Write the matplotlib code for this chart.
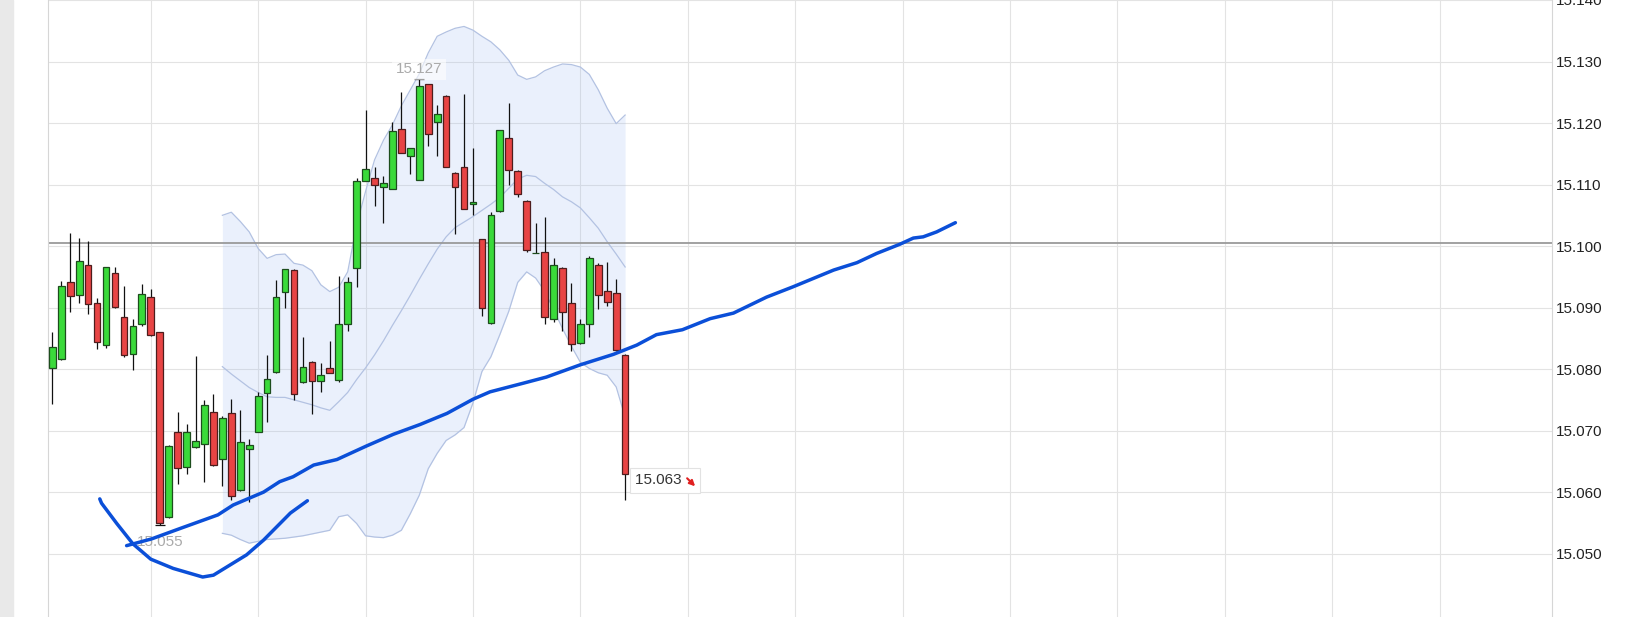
import matplotlib
matplotlib.use("Agg")
import matplotlib.pyplot as plt
from matplotlib.patches import Rectangle
from matplotlib.transforms import offset_copy

plt.rcParams['font.family'] = ['Liberation Sans', 'DejaVu Sans']

# === Data ===
# one candle per slot, slot 0 = first visible candle
opens = [15.0801, 15.0816, 15.0942, 15.0920, 15.0970, 15.0908, 15.0839, 15.0957, 15.0885, 15.0824,
         15.0873, 15.0918, 15.0861, 15.0559, 15.0698, 15.0641, 15.0673, 15.0678, 15.0731, 15.0654,
         15.0729, 15.0603, 15.0670, 15.0698, 15.0761, 15.0795, 15.0926, 15.0961, 15.0779, 15.0812,
         15.0780, 15.0801, 15.0783, 15.0873, 15.0964, 15.1106, 15.1110, 15.1096, 15.1093, 15.1191,
         15.1147, 15.1108, 15.1263, 15.1202, 15.1244, 15.1119, 15.1128, 15.1068, 15.1011, 15.0875,
         15.1057, 15.1176, 15.1122, 15.1074, 15.0988, 15.0991, 15.0882, 15.0965, 15.0907, 15.0842,
         15.0874, 15.0970, 15.0927, 15.0923, 15.0823]
highs = [15.0860, 15.0944, 15.1022, 15.1013, 15.1008, 15.0915, 15.0966, 15.0966, 15.0935, 15.0882,
         15.0939, 15.0931, 15.0861, 15.0676, 15.0731, 15.0711, 15.0822, 15.0750, 15.0759, 15.0724,
         15.0752, 15.0733, 15.0686, 15.0763, 15.0823, 15.0945, 15.0963, 15.0962, 15.0852, 15.0813,
         15.0810, 15.0846, 15.0951, 15.0950, 15.1110, 15.1221, 15.1128, 15.1114, 15.1202, 15.1250,
         15.1160, 15.1271, 15.1264, 15.1229, 15.1245, 15.1120, 15.1247, 15.1160, 15.1012, 15.1056,
         15.1189, 15.1232, 15.1123, 15.1075, 15.1038, 15.1048, 15.0980, 15.0966, 15.0940, 15.0882,
         15.0984, 15.0973, 15.0974, 15.0947, 15.0824]
lows = [15.0744, 15.0815, 15.0893, 15.0907, 15.0889, 15.0832, 15.0835, 15.0900, 15.0819, 15.0798,
        15.0870, 15.0853, 15.0546, 15.0558, 15.0613, 15.0630, 15.0672, 15.0617, 15.0643, 15.0610,
        15.0588, 15.0602, 15.0584, 15.0697, 15.0714, 15.0794, 15.0899, 15.0750, 15.0778, 15.0727,
        15.0762, 15.0793, 15.0779, 15.0862, 15.0934, 15.1105, 15.1065, 15.1037, 15.1092, 15.1151,
        15.1117, 15.1107, 15.1163, 15.1146, 15.1128, 15.1020, 15.1060, 15.1050, 15.0886, 15.0874,
        15.1056, 15.1099, 15.1079, 15.0991, 15.0988, 15.0873, 15.0876, 15.0862, 15.0830, 15.0841,
        15.0852, 15.0898, 15.0902, 15.0830, 15.0587]
closes = [15.0836, 15.0935, 15.0919, 15.0976, 15.0906, 15.0844, 15.0966, 15.0901, 15.0823, 15.0870,
          15.0922, 15.0855, 15.0549, 15.0675, 15.0639, 15.0698, 15.0683, 15.0741, 15.0644, 15.0720,
          15.0593, 15.0681, 15.0676, 15.0756, 15.0784, 15.0918, 15.0963, 15.0759, 15.0804, 15.0781,
          15.0791, 15.0794, 15.0873, 15.0942, 15.1106, 15.1126, 15.1100, 15.1102, 15.1187, 15.1152,
          15.1159, 15.1260, 15.1182, 15.1215, 15.1129, 15.1096, 15.1061, 15.1072, 15.0900, 15.1050,
          15.1188, 15.1124, 15.1084, 15.0993, 15.0988, 15.0885, 15.0969, 15.0892, 15.0841, 15.0873,
          15.0980, 15.0921, 15.0909, 15.0831, 15.0629]

# Bollinger band, slots 19..64
band_start = 19
band_upper = [15.1050, 15.1055, 15.1040, 15.1023, 15.0996, 15.0980, 15.0986, 15.0987, 15.0972, 15.0969,
              15.0960, 15.0937, 15.0926, 15.0933, 15.0958, 15.1034, 15.1089, 15.1140, 15.1172, 15.1197,
              15.1228, 15.1254, 15.1280, 15.1314, 15.1341, 15.1348, 15.1354, 15.1357, 15.1351, 15.1341,
              15.1332, 15.1319, 15.1302, 15.1278, 15.1271, 15.1275, 15.1285, 15.1291, 15.1296, 15.1295,
              15.1291, 15.1279, 15.1254, 15.1224, 15.1199, 15.1213]
band_mid = [15.0804, 15.0792, 15.0781, 15.0770, 15.0762, 15.0755, 15.0754, 15.0754, 15.0750, 15.0746,
            15.0742, 15.0737, 15.0733, 15.0747, 15.0762, 15.0783, 15.0802, 15.0823, 15.0846, 15.0871,
            15.0895, 15.0920, 15.0946, 15.0971, 15.0995, 15.1015, 15.1030, 15.1039, 15.1048, 15.1058,
            15.1068, 15.1079, 15.1094, 15.1109, 15.1115, 15.1113, 15.1102, 15.1092, 15.1080, 15.1072,
            15.1062, 15.1046, 15.1029, 15.1007, 15.0987, 15.0966]
band_lower = [15.0533, 15.0530, 15.0523, 15.0517, 15.0520, 15.0523, 15.0524, 15.0525, 15.0527, 15.0529,
              15.0532, 15.0535, 15.0538, 15.0560, 15.0563, 15.0549, 15.0529, 15.0527, 15.0526, 15.0530,
              15.0538, 15.0565, 15.0595, 15.0638, 15.0663, 15.0684, 15.0693, 15.0705, 15.0745, 15.0796,
              15.0820, 15.0856, 15.0894, 15.0941, 15.0958, 15.0948, 15.0927, 15.0897, 15.0866, 15.0837,
              15.0811, 15.0801, 15.0794, 15.0790, 15.0771, 15.0722]

# long moving average (slot position, value)
ma_x = [8.3, 11.1, 14.3, 18.5, 20.2, 23.6, 25.4, 26.9, 29.2, 31.8, 35.1, 38.1, 41.1, 44.1, 47.0,
        48.9, 52.6, 55.2, 59.0, 62.7, 65.3, 67.5, 70.4, 73.5, 76.1, 79.8, 82.8, 87.3, 89.9, 92.1,
        94.7, 96.2, 97.3, 98.8, 100.9]
ma_y = [15.0513, 15.0524, 15.0541, 15.0563, 15.0579, 15.0600, 15.0617, 15.0625, 15.0644, 15.0653,
        15.0675, 15.0694, 15.0710, 15.0728, 15.0751, 15.0763, 15.0777, 15.0787, 15.0807, 15.0824,
        15.0839, 15.0856, 15.0864, 15.0882, 15.0891, 15.0917, 15.0934, 15.0961, 15.0973, 15.0988,
        15.1003, 15.1013, 15.1015, 15.1023, 15.1038]

# hand-drawn curve
curve_x = [5.3, 5.5, 7.2, 9.0, 11.0, 13.5, 16.8, 18.0, 21.7, 23.6, 25.1, 26.6, 28.5]
curve_y = [15.0589, 15.0582, 15.0549, 15.0516, 15.0491, 15.0476, 15.0462, 15.0465, 15.0498,
           15.0522, 15.0544, 15.0566, 15.0586]

ref_level = 15.1005
y_ticks = [15.050, 15.060, 15.070, 15.080, 15.090, 15.100, 15.110, 15.120, 15.130, 15.140]

GREEN = "#3ada3a"
RED = "#e84444"
BLUE = "#0b4fd8"
BAND_LINE = "#b3c2e2"

W, H = 1628, 617
fig = plt.figure(figsize=(W / 100, H / 100), dpi=100)
fig.patches.append(Rectangle((0, 0), 12.5 / W, 1, transform=fig.transFigure,
                             color="#e9e9e9", zorder=0))
ax = fig.add_axes([48.3 / W, 0, (1552 - 48.3) / W, 1])

ax.set_xlim(-0.45, 167.56)
ax.set_ylim(15.0397, 15.1400)

# grid
ax.set_xticks(range(11, 160, 12))
ax.set_xticklabels([])
ax.set_yticks(y_ticks)
ax.set_yticklabels([f"{v:.3f}" for v in y_ticks])
ax.yaxis.tick_right()
ax.tick_params(axis="x", length=0)
ax.tick_params(axis="y", length=0, pad=3, labelsize=11, labelcolor="#222222")
ax.grid(True, color="#e3e3e3", linewidth=0.8)
ax.set_axisbelow(True)
for side in ("top", "bottom"):
    ax.spines[side].set_visible(False)
for side in ("left", "right"):
    ax.spines[side].set_color("#d6d6d6")
    ax.spines[side].set_linewidth(0.8)

# bollinger band
bx = list(range(band_start, band_start + len(band_mid)))
ax.fill_between(bx, band_lower, band_upper, color=(0.60, 0.72, 0.95), alpha=0.2,
                linewidth=0, zorder=1)
for series in (band_upper, band_mid, band_lower):
    ax.plot(bx, series, color=BAND_LINE, linewidth=0.9, zorder=1.5)

# reference level
ax.axhline(ref_level, color="#9a9a9a", linewidth=1.3, zorder=2)

# candles
xs = list(range(len(opens)))
ax.vlines(xs, lows, highs, color="#111111", linewidth=0.9, zorder=3)
for i in xs:
    o, c = opens[i], closes[i]
    col = GREEN if c >= o else RED
    edge = "#1d4d1d" if c >= o else "#4d1d1d"
    ax.bar(i, c - o, bottom=o, width=0.75, color=col, edgecolor=edge,
           linewidth=0.9, zorder=4)

i_max = max(xs, key=lambda k: highs[k])
i_min = min(xs, key=lambda k: lows[k])
ax.hlines([highs[i_max]], i_max - 0.55, i_max + 0.55, color="#111111", linewidth=0.9, zorder=3)
ax.hlines([lows[i_min]], i_min - 0.55, i_min + 0.55, color="#111111", linewidth=0.9, zorder=3)

ax.annotate(f"{highs[i_max]:.3f}", xy=(i_max, highs[i_max]), xytext=(0, 10),
            textcoords="offset pixels", ha="center", va="center", fontsize=11,
            color="#aaaaaa", zorder=5,
            bbox=dict(boxstyle="square,pad=0.25", fc="white", ec="none", alpha=0.6))
ax.annotate(f"{lows[i_min]:.3f}", xy=(i_min, lows[i_min]), xytext=(0, -17),
            textcoords="offset pixels", ha="center", va="center", fontsize=11,
            color="#aaaaaa", zorder=5)

# moving average and drawn curve
ax.plot(ma_x, ma_y, color=BLUE, linewidth=2.5, solid_capstyle="round",
        solid_joinstyle="round", zorder=6)
ax.plot(curve_x, curve_y, color=BLUE, linewidth=2.5, solid_capstyle="round",
        solid_joinstyle="round", zorder=6)

# last price label with a small red down arrow inside its box
last = len(closes) - 1
ax.annotate(f"{closes[last]:.3f}   ", xy=(last, closes[last]), xytext=(10, -6),
            textcoords="offset pixels", ha="left", va="center", fontsize=11,
            color="#333333", zorder=7,
            bbox=dict(boxstyle="square,pad=0.35", fc="white", ec="#e2e2e2", lw=0.8))
head = offset_copy(ax.transData, fig=fig, x=70, y=-12, units="dots")
ax.annotate("", xy=(last, closes[last]), xycoords=head, xytext=(-8, 8),
            textcoords="offset pixels", zorder=8,
            arrowprops=dict(arrowstyle="-|>", color="#e02020", lw=1.5,
                            mutation_scale=8, shrinkA=0, shrinkB=0))

fig.savefig("out.png", dpi=100)
